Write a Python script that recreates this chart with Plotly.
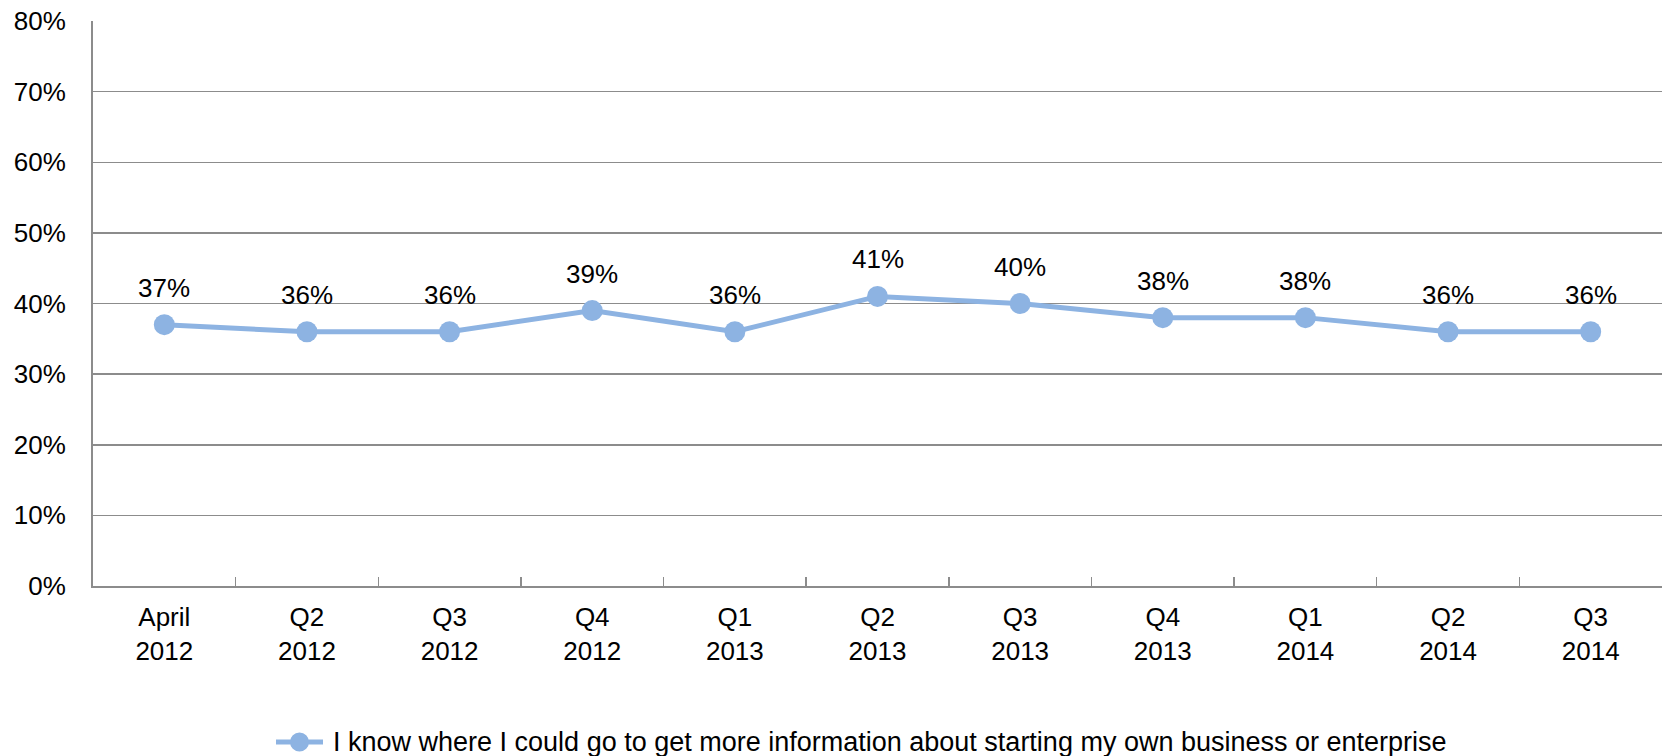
import plotly.graph_objects as go

categories = ["April<br>2012", "Q2<br>2012", "Q3<br>2012", "Q4<br>2012", "Q1<br>2013",
              "Q2<br>2013", "Q3<br>2013", "Q4<br>2013", "Q1<br>2014", "Q2<br>2014", "Q3<br>2014"]
values = [0.37, 0.36, 0.36, 0.39, 0.36, 0.41, 0.40, 0.38, 0.38, 0.36, 0.36]
series_name = "I know where I could go to get more information about starting my own business or enterprise"

FONT = "Liberation Sans, Arial, sans-serif"
FS = 26
LINE_COLOR = "#8DB3E2"
GRID = "#8C8C8C"

# plot area in window: x 93..1662, y 21..586 (body margin removed)
ML, MT = 93, 21
MR, MB = 5, 170
PW = 1667 - ML - MR
PH = 756 - MT - MB

def px(xw):
    return (xw - ML) / PW

def py(yw):
    return (756 - MB - yw) / PH

fig = go.Figure()
fig.add_trace(go.Scatter(
    x=categories, y=values, mode="lines+markers", name=series_name,
    line=dict(color=LINE_COLOR, width=5),
    marker=dict(color=LINE_COLOR, size=21),
    showlegend=False,
))

for c, v in zip(categories, values):
    fig.add_annotation(x=c, y=v, text=f"{round(v*100)}%", showarrow=False,
                       yshift=37, font=dict(family=FONT, size=FS, color="#000000"))

# custom legend (longer symbol line like the reference)
ly = py(742)
fig.add_shape(type="line", xref="paper", yref="paper", x0=px(276), x1=px(323), y0=ly, y1=ly,
              line=dict(color=LINE_COLOR, width=5))
fig.add_shape(type="circle", xref="paper", yref="paper", xsizemode="pixel", ysizemode="pixel",
              xanchor=px(299.5), yanchor=ly, x0=-9.5, x1=9.5, y0=-9.5, y1=9.5,
              fillcolor=LINE_COLOR, line=dict(width=0))
fig.add_annotation(xref="paper", yref="paper", x=px(331), y=ly, xanchor="left", yanchor="middle",
                   text=series_name, showarrow=False, font=dict(family=FONT, size=27, color="#000000"))

fig.update_layout(
    width=1667, height=756,
    margin=dict(l=ML, r=MR, t=MT, b=MB),
    paper_bgcolor="white", plot_bgcolor="white",
    font=dict(family=FONT, size=FS, color="#000000"),
    showlegend=False,
    xaxis=dict(
        type="category", range=[-0.5, 10.5], showgrid=False, showline=True, linecolor=GRID, linewidth=2,
        ticks="inside", tickson="boundaries", ticklen=9, tickcolor=GRID, tickwidth=1.5,
        tickfont=dict(family=FONT, size=FS), fixedrange=True, automargin=False,
        ticklabelstandoff=7,
    ),
    yaxis=dict(
        range=[0, 0.8], dtick=0.1, tickformat=".0%", showgrid=True, gridcolor=GRID, gridwidth=1.5,
        showline=True, linecolor=GRID, linewidth=2, zeroline=False, ticks="",
        tickfont=dict(family=FONT, size=FS), ticklabelstandoff=20, automargin=False,
    ),
)

fig.write_html("out.html", post_script="document.body.style.margin='0';",
               config={"displayModeBar": False, "staticPlot": True})
